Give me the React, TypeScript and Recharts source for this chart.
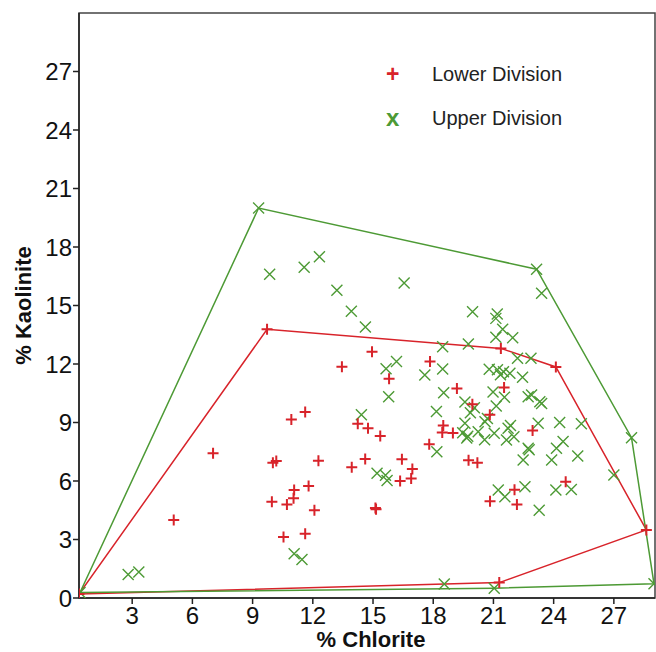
import { ScatterChart, Scatter, XAxis, YAxis, ReferenceArea } from "recharts";

// % Chlorite (x) vs % Kaolinite (y)
const lowerChlorite = [
  0.35, 5.07, 7.03, 9.72, 9.96, 10.01, 10.18, 10.54, 10.71, 10.93, 11.04, 11.07, 11.62, 11.62,
  11.79, 12.08, 12.28, 13.45, 13.94, 14.24, 14.61, 14.75, 14.95, 15.12, 15.15, 15.36, 15.8,
  16.35, 16.44, 16.9, 16.96, 17.8, 17.84, 18.5, 18.45, 18.98, 19.18, 19.76, 19.95, 20.2, 20.82,
  20.83, 21.29, 21.37, 21.53, 22.05, 22.17, 22.95, 24.11, 24.6, 28.62,
];
const lowerKaolinite = [
  0.2, 4.0, 7.42, 13.78, 4.94, 6.94, 7.03, 3.13, 4.8, 9.16, 5.11, 5.54, 9.54, 3.3,
  5.74, 4.5, 7.04, 11.86, 6.7, 8.93, 7.13, 8.7, 12.63, 4.62, 4.55, 8.31, 11.25,
  6.0, 7.12, 6.13, 6.61, 7.88, 12.13, 8.85, 8.49, 8.46, 10.74, 7.07, 9.94, 6.94, 9.4,
  4.96, 0.79, 12.8, 10.79, 5.55, 4.79, 8.59, 11.85, 5.96, 3.49,
];

const upperChlorite = [
  0.4, 2.8, 3.33, 9.3, 9.85, 11.07, 11.46, 11.57, 12.33, 13.2, 13.92, 14.42, 14.62, 15.2,
  15.62, 15.7, 15.65, 15.78, 16.17, 16.55, 17.58, 18.16, 18.18, 18.47, 18.47, 18.52, 18.55,
  19.47, 19.58, 19.58, 19.67, 19.72, 19.75, 19.85, 19.96, 20.05, 20.24, 20.56, 20.58, 20.7,
  20.79, 20.98, 21.04, 21.04, 21.12, 21.12, 21.14, 21.19, 21.2, 21.24, 21.35, 21.46, 21.5,
  21.55, 21.57, 21.65, 21.73, 21.82, 21.85, 21.96, 22.02, 22.2, 22.45, 22.48, 22.57, 22.73,
  22.78, 22.73, 22.9, 22.87, 23.15, 23.23, 23.28, 23.31, 23.4, 23.4, 23.9, 24.11, 24.14,
  24.3, 24.47, 24.88, 25.2, 25.38, 27.0, 27.88, 29.0,
];
const upperKaolinite = [
  0.28, 1.21, 1.33, 20.0, 16.6, 2.27, 1.98, 16.96, 17.5, 15.78, 14.7, 9.4, 13.9, 6.4,
  6.3, 6.03, 11.76, 10.32, 12.13, 16.15, 11.44, 9.57, 7.5, 12.89, 11.74, 10.52, 0.72,
  8.48, 10.05, 8.96, 8.2, 8.3, 13.03, 9.5, 14.68, 9.76, 8.53, 8.12, 9.04, 9.2,
  11.73, 10.56, 8.45, 0.5, 14.34, 13.37, 9.85, 14.56, 11.7, 5.54, 11.45, 13.78, 11.6,
  10.3, 5.19, 8.1, 8.7, 11.52, 8.85, 13.35, 8.27, 12.3, 11.32, 7.08, 5.71, 7.68,
  7.6, 10.32, 10.41, 12.29, 16.86, 8.96, 4.5, 10.07, 9.98, 15.63, 7.08, 5.54, 7.68,
  9.0, 8.02, 5.57, 7.28, 8.94, 6.31, 8.22, 0.73,
];

// outline (hull) of each group, closed
const lowerHullX = [0.35, 9.72, 21.37, 24.11, 28.62, 21.29, 0.35];
const lowerHullY = [0.2, 13.78, 12.8, 11.85, 3.49, 0.79, 0.2];
const upperHullX = [0.4, 9.3, 23.15, 27.88, 29.0, 21.04, 0.4];
const upperHullY = [0.28, 20.0, 16.86, 8.22, 0.73, 0.5, 0.28];

const xTicks = [3, 6, 9, 12, 15, 18, 21, 24, 27];
const yTicks = [0, 3, 6, 9, 12, 15, 18, 21, 24, 27];

const RED = "#d8232a";
const GREEN = "#4d9a35";
const FONT = "'Liberation Sans', Arial, sans-serif";

const zip = (xs: number[], ys: number[]) => xs.map((x, i) => ({ x, y: ys[i] }));

const lower = zip(lowerChlorite, lowerKaolinite);
const upper = zip(upperChlorite, upperKaolinite);
const lowerHull = zip(lowerHullX, lowerHullY);
const upperHull = zip(upperHullX, upperHullY);

const Plus = (p: any) => (
  <path
    d={`M${p.cx - 5.5},${p.cy}h11M${p.cx},${p.cy - 5.5}v11`}
    stroke={RED}
    strokeWidth={2}
    fill="none"
  />
);

const Cross = (p: any) => (
  <path
    d={`M${p.cx - 5.5},${p.cy - 5.5}l11,11M${p.cx - 5.5},${p.cy + 5.5}l11,-11`}
    stroke={GREEN}
    strokeWidth={1.4}
    fill="none"
  />
);

const Nothing = () => <g />;

// legend sits inside the plot, top right
function LegendBox() {
  const row = { position: "absolute" as const, left: 0, display: "flex", alignItems: "center", height: 24 };
  return (
    <div style={{ position: "absolute", left: 386, top: 62, width: 230, height: 70, fontFamily: FONT }}>
      <div style={{ ...row, top: 0 }}>
        <span style={{ color: RED, fontWeight: 700, fontSize: 23, width: 46, lineHeight: "24px" }}>+</span>
        <span style={{ color: "#222", fontSize: 20 }}>Lower Division</span>
      </div>
      <div style={{ ...row, top: 44 }}>
        <span style={{ color: GREEN, fontWeight: 700, fontSize: 24, width: 46, lineHeight: "24px" }}>x</span>
        <span style={{ color: "#222", fontSize: 20 }}>Upper Division</span>
      </div>
    </div>
  );
}

export default function App() {
  return (
    <div style={{ position: "absolute", left: 0, top: 0, width: 656, height: 652, background: "#fff", fontFamily: FONT }}>
      <ScatterChart width={656} height={652} margin={{ top: 13, right: 1, bottom: 0, left: 0 }}>
        <XAxis
          type="number"
          dataKey="x"
          domain={[0.35, 29.05]}
          ticks={xTicks}
          allowDataOverflow
          height={54}
          tickSize={6}
          tickMargin={3}
          stroke="#222"
          strokeWidth={1.5}
          tick={{ fill: "#111", fontSize: 24, fontFamily: FONT }}
          label={{
            value: "% Chlorite",
            position: "insideBottom",
            offset: 5,
            dx: 4,
            style: { fill: "#111", fontSize: 22, fontWeight: 700, fontFamily: FONT },
          }}
        />
        <YAxis
          type="number"
          dataKey="y"
          domain={[0, 30]}
          ticks={yTicks}
          allowDataOverflow
          width={79}
          tickSize={6}
          tickMargin={1}
          stroke="#222"
          strokeWidth={1.5}
          tick={{ fill: "#111", fontSize: 24, fontFamily: FONT }}
          label={{
            content: (props: any) => {
              const vb = props.viewBox || { y: 13, height: 585 };
              const cy = vb.y + vb.height / 2;
              return (
                <text
                  x={31}
                  y={cy}
                  transform={`rotate(-90 31 ${cy})`}
                  textAnchor="middle"
                  fill="#111"
                  fontSize={22}
                  fontWeight={700}
                  fontFamily={FONT}
                >
                  % Kaolinite
                </text>
              );
            },
          }}
        />
        <ReferenceArea x1={0.35} x2={29.05} y1={0} y2={30} fill="none" stroke="#444" strokeWidth={1.5} ifOverflow="visible" />
        <Scatter name="lowerHull" data={lowerHull} line={{ stroke: RED, strokeWidth: 1.5 }} shape={Nothing} isAnimationActive={false} legendType="none" />
        <Scatter name="upperHull" data={upperHull} line={{ stroke: GREEN, strokeWidth: 1.5 }} shape={Nothing} isAnimationActive={false} legendType="none" />
        <Scatter name="Upper Division" data={upper} shape={Cross} isAnimationActive={false} />
        <Scatter name="Lower Division" data={lower} shape={Plus} isAnimationActive={false} />
      </ScatterChart>
      <LegendBox />
    </div>
  );
}
